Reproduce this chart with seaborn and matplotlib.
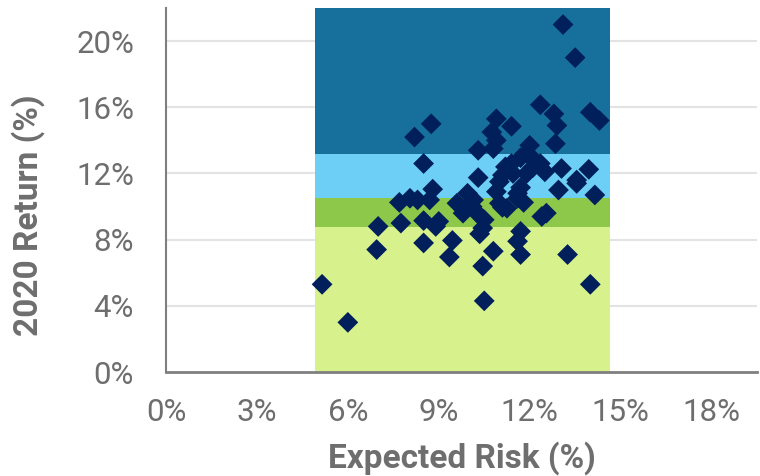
import matplotlib
matplotlib.use("Agg")
import matplotlib.pyplot as plt
import seaborn as sns
import pandas as pd
from matplotlib.ticker import FuncFormatter

# Expected risk (%) and 2020 return (%) per fund
risk = [
    13.1, 13.5, 12.35, 12.8, 12.9, 12.85, 14.0, 14.3, 8.75, 8.2,
    8.5, 10.9, 11.4, 10.75, 10.9, 10.3, 10.8, 12.0, 11.9, 12.1,
    10.3, 11.1, 11.4, 13.05, 13.95, 13.55, 14.15, 12.95, 9.95, 10.15,
    9.6, 9.8, 8.8, 8.7, 8.3, 8.05, 7.7, 11.7, 12.1, 12.35,
    11.9, 11.45, 11.7, 11.2, 12.5, 11.0, 10.9, 11.0, 11.25, 11.6,
    11.8, 12.55, 12.4, 10.35, 10.5, 10.1, 7.0, 7.75, 8.5, 9.0,
    8.9, 6.95, 8.5, 9.45, 9.35, 10.35, 10.45, 10.5, 10.8, 11.7,
    11.6, 11.7, 13.25, 14.0, 5.15, 6.0, 10.45, 11.1, 11.6, 13.55,
]
ret = [
    21.0, 19.0, 16.15, 15.6, 14.9, 13.8, 15.7, 15.2, 15.0, 14.2,
    12.6, 15.3, 14.85, 14.5, 14.0, 13.4, 13.5, 13.7, 13.2, 12.9,
    11.75, 11.9, 12.6, 12.3, 12.25, 11.6, 10.7, 11.0, 10.8, 10.4,
    10.2, 9.6, 11.05, 10.4, 10.4, 10.5, 10.25, 11.15, 12.35, 12.6,
    12.0, 12.0, 12.95, 12.4, 12.1, 11.5, 10.9, 10.2, 9.9, 10.5,
    10.25, 9.6, 9.4, 9.45, 9.2, 10.0, 8.8, 9.0, 9.15, 9.1,
    8.8, 7.4, 7.8, 7.95, 6.95, 8.35, 6.4, 4.3, 7.3, 8.5,
    7.9, 7.1, 7.1, 5.3, 5.3, 3.0, 8.7, 9.95, 10.8, 11.4,
]

# Background return bands over the risk window
band_risk = [4.9, 14.65]
band_edges = [0, 8.75, 10.5, 13.15, 22]
band_colors = ["#D7F18C", "#8DC84A", "#6DCFF6", "#17709B"]

x_ticks = [0, 3, 6, 9, 12, 15, 18]
y_ticks = [0, 4, 8, 12, 16, 20]

df = pd.DataFrame({"risk": risk, "ret": ret})

sns.set_style("white")
plt.rcParams["font.family"] = ["Roboto", "DejaVu Sans"]

fig = plt.figure(figsize=(7.6, 4.76), dpi=100)
ax = fig.add_axes([166 / 760, 104 / 476, 591 / 760, 364 / 476])

for y in y_ticks[1:]:
    ax.axhline(y, color="#E3E3E3", lw=1.5, zorder=0)

for lo, hi, col in zip(band_edges[:-1], band_edges[1:], band_colors):
    ax.bar(band_risk[0], hi - lo, bottom=lo, width=band_risk[1] - band_risk[0],
           align="edge", color=col, edgecolor="none", zorder=1)

sns.scatterplot(data=df, x="risk", y="ret", marker="D", s=112,
                color="#001F5B", edgecolor="none", linewidth=0,
                ax=ax, zorder=3)

ax.set_xlim(0, 19.5)
ax.set_ylim(0, 22)
ax.set_xticks(x_ticks)
ax.set_yticks(y_ticks)
pct = FuncFormatter(lambda v, _: f"{v:.0f}%")
ax.xaxis.set_major_formatter(pct)
ax.yaxis.set_major_formatter(pct)
ax.tick_params(axis="both", length=0, labelsize=22.5, labelcolor="#6E6E6E")
ax.tick_params(axis="x", pad=19)
ax.tick_params(axis="y", pad=23)

for side in ("top", "right"):
    ax.spines[side].set_visible(False)
ax.spines["left"].set_color("#7F7F7F")
ax.spines["left"].set_linewidth(1.5)
ax.spines["bottom"].set_color("#7F7F7F")
ax.spines["bottom"].set_linewidth(2)
ax.spines["left"].set_zorder(4)
ax.spines["bottom"].set_zorder(4)

ax.set_xlabel("Expected Risk (%)", fontsize=24, fontweight="bold",
              color="#6E6E6E", labelpad=10)
ax.set_ylabel("2020 Return (%)", fontsize=24, fontweight="bold",
              color="#6E6E6E")
ax.yaxis.set_label_coords(-0.205, 0.43)

fig.savefig("out.png", dpi=100)
